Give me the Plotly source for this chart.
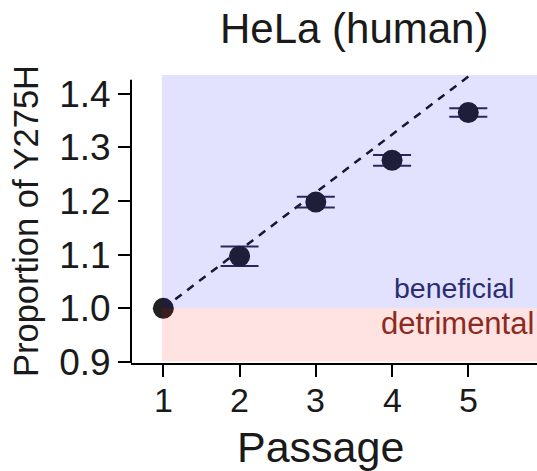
import plotly.graph_objects as go

# Passage experiment data
passage = [1, 2, 3, 4, 5]
proportion = [1.000, 1.097, 1.198, 1.276, 1.365]
err = [0.000, 0.018, 0.010, 0.010, 0.008]
fit_x = [1.0, 5.2]
fit_slope = 0.108
x_ticks = [1, 2, 3, 4, 5]
y_ticks = [0.9, 1.0, 1.1, 1.2, 1.3, 1.4]
y_tick_text = ["0.9", "1.0", "1.1", "1.2", "1.3", "1.4"]

W, H = 537, 471
L, R, T, B = 131, 0, 75, 108
PW, PH = W - L - R, H - T - B

X_RANGE = [0.576, 5.901]
Y_RANGE = [0.898, 1.435]
FONT = "Liberation Sans, Arial, sans-serif"


def px(xp):
    return (xp - L) / PW


def py(yp):
    return (H - B - yp) / PH


fit_y = [1.0 + fit_slope * (v - 1.0) for v in fit_x]

fig = go.Figure()

fig.add_trace(go.Scatter(
    x=fit_x, y=fit_y, mode="lines",
    line=dict(color="#1a1a1a", width=2.5, dash="8px,7px"),
    hoverinfo="skip", showlegend=False,
))

# error bars only where there is a spread
with_err = [i for i, e in enumerate(err) if e > 0]
fig.add_trace(go.Scatter(
    x=[passage[i] for i in with_err],
    y=[proportion[i] for i in with_err],
    mode="markers", marker=dict(size=1, color="rgba(0,0,0,0)"),
    error_y=dict(type="data", array=[err[i] for i in with_err],
                 visible=True, color="#2e2e48", thickness=2, width=19),
    hoverinfo="skip", showlegend=False,
))

fig.add_trace(go.Scatter(
    x=passage, y=proportion, mode="markers",
    marker=dict(size=21, color="#222222", line=dict(width=0)),
    cliponaxis=False, showlegend=False,
))

shapes = [
    # beneficial / detrimental zones (tinted overlay)
    dict(type="rect", xref="x", yref="y", x0=0.98, x1=X_RANGE[1],
         y0=1.0, y1=Y_RANGE[1], fillcolor="rgba(0,0,255,0.115)",
         line=dict(width=0), layer="above"),
    dict(type="rect", xref="x", yref="y", x0=0.98, x1=X_RANGE[1],
         y0=Y_RANGE[0] + 0.003, y1=1.0, fillcolor="rgba(255,0,0,0.115)",
         line=dict(width=0), layer="above"),
    # y axis line
    dict(type="line", xref="paper", yref="y", x0=0, x1=0,
         y0=Y_RANGE[0], y1=1.426, line=dict(color="black", width=2),
         layer="above"),
]

annotations = [
    dict(text="HeLa (human)", xref="paper", yref="paper",
         x=px(354), y=py(28), xanchor="center", yanchor="middle",
         showarrow=False, font=dict(family=FONT, size=42, color="#1a1a1a")),
    dict(text="Passage", xref="paper", yref="paper",
         x=px(320), y=py(447), xanchor="center", yanchor="middle",
         showarrow=False, font=dict(family=FONT, size=43, color="#1a1a1a")),
    dict(text="Proportion of Y275H", xref="paper", yref="paper",
         x=px(26), y=py(221), xanchor="center", yanchor="middle",
         textangle=-90, showarrow=False,
         font=dict(family=FONT, size=34.5, color="#1a1a1a")),
    dict(text="beneficial", xref="paper", yref="paper",
         x=px(516), y=py(288), xanchor="right", yanchor="middle",
         showarrow=False, font=dict(family=FONT, size=28.5, color="#2b2d72")),
    dict(text="detrimental", xref="paper", yref="paper",
         x=px(536), y=py(323), xanchor="right", yanchor="middle",
         showarrow=False, font=dict(family=FONT, size=31, color="#8c2a20")),
]

# x tick labels placed just below the tick marks
for v in x_ticks:
    annotations.append(dict(
        text=str(v), xref="x", yref="paper", x=v, y=py(400),
        xanchor="center", yanchor="middle", showarrow=False,
        font=dict(family=FONT, size=34, color="#1a1a1a"),
    ))

fig.update_layout(
    width=W, height=H,
    margin=dict(l=L, r=R, t=T, b=B, pad=0),
    paper_bgcolor="white", plot_bgcolor="white",
    shapes=shapes, annotations=annotations,
    font=dict(family=FONT, color="#1a1a1a"),
)

fig.update_xaxes(
    range=X_RANGE, tickvals=x_ticks, showticklabels=False,
    showgrid=False, zeroline=False, showline=True, linecolor="black",
    linewidth=2, ticks="outside", ticklen=12, tickwidth=2, tickcolor="black",
)
fig.update_yaxes(
    range=Y_RANGE, tickvals=y_ticks, ticktext=y_tick_text,
    showgrid=False, zeroline=False, showline=False,
    ticks="outside", ticklen=12, tickwidth=2, tickcolor="black",
    tickfont=dict(family=FONT, size=37, color="#1a1a1a"),
)

fig.write_html("out.html")
